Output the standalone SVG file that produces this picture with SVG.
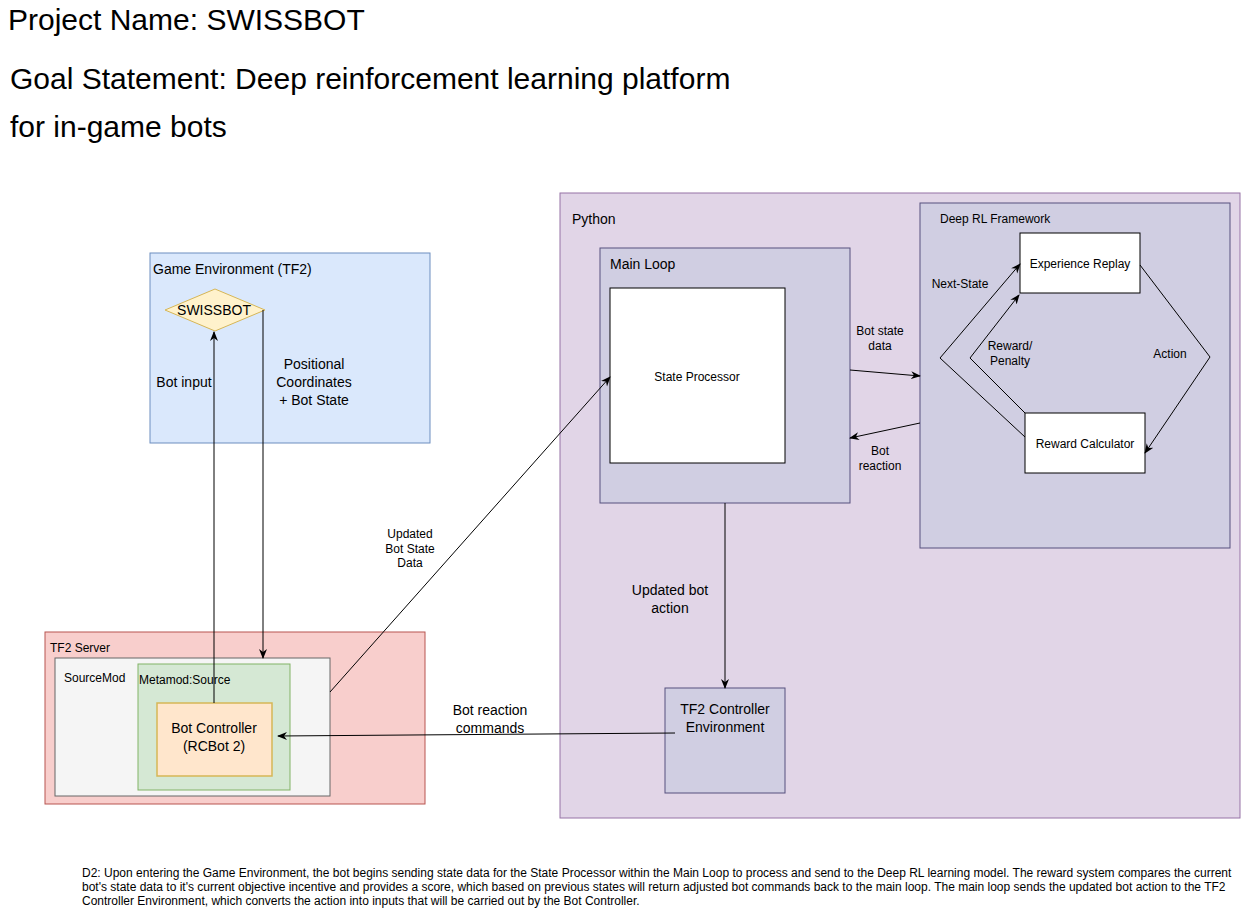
<svg xmlns="http://www.w3.org/2000/svg" width="1241" height="909" viewBox="0 0 1241 909">
<defs>
<marker id="arr" viewBox="0 0 10 10" refX="9" refY="5" markerWidth="10" markerHeight="10" markerUnits="userSpaceOnUse" orient="auto">
<path d="M0,1 L10,5 L0,9 L3,5 Z" fill="#000"/>
</marker>
</defs>
<style>
text{font-family:"Liberation Sans",Arial,sans-serif;fill:#000}
.t14{font-size:14px}
.t12{font-size:12px}
.c{text-anchor:middle}
.con{fill:none;stroke:#000;stroke-width:1}
.purple{fill:#d0cee2;stroke:#56517e}
.white{fill:#fff;stroke:#000}
</style>
<rect width="1241" height="909" fill="#fff"/>
<g id="title">
<text x="8" y="30" style="font-size:30px">Project Name: SWISSBOT</text>
<text x="10" y="89" style="font-size:30px">Goal Statement: Deep reinforcement learning platform</text>
<text x="10" y="137" style="font-size:30px">for in-game bots</text>
</g>
<g id="game-env">
<rect x="150" y="253" width="280" height="190" fill="#dae8fc" stroke="#6c8ebf"/>
<text x="153" y="274" class="t14">Game Environment (TF2)</text>
</g>
<g id="swissbot">
<polygon points="165,310 215,289 265,310 215,331" fill="#fff2cc" stroke="#d6b656"/>
<text x="214" y="315" class="t14 c">SWISSBOT</text>
</g>
<g id="tf2-server">
<rect x="45" y="632" width="380" height="172" fill="#f8cecc" stroke="#b85450"/>
<text x="50" y="652" class="t12">TF2 Server</text>
</g>
<g id="sourcemod">
<rect x="55" y="658" width="275" height="138" fill="#f5f5f5" stroke="#666"/>
<text x="64" y="682" class="t12">SourceMod</text>
</g>
<g id="metamod">
<rect x="138" y="664" width="152" height="126" fill="#d5e8d4" stroke="#82b366"/>
<text x="139" y="684" class="t12">Metamod:Source</text>
</g>
<g id="bot-controller">
<rect x="157" y="703" width="115" height="73" fill="#ffe6cc" stroke="#d6b656" stroke-width="1.5"/>
<text x="214" y="733" class="t14 c">Bot Controller</text>
<text x="214" y="751" class="t14 c">(RCBot 2)</text>
</g>
<g id="python">
<rect x="560" y="193" width="680" height="625" fill="#e1d5e7" stroke="#9673a6"/>
<text x="572" y="224" class="t14">Python</text>
</g>
<g id="main-loop">
<rect x="600" y="248" width="250" height="255" class="purple"/>
<text x="610" y="269" class="t14">Main Loop</text>
</g>
<g id="state-processor">
<rect x="610" y="288" width="175" height="175" class="white"/>
<text x="697" y="381" class="t12 c">State Processor</text>
</g>
<g id="deep-rl">
<rect x="920" y="203" width="310" height="345" class="purple"/>
<text x="940" y="223" class="t12">Deep RL Framework</text>
</g>
<g id="experience-replay">
<rect x="1020" y="233" width="120" height="60" class="white"/>
<text x="1080" y="268" class="t12 c">Experience Replay</text>
</g>
<g id="reward-calculator">
<rect x="1025" y="413" width="120" height="60" class="white"/>
<text x="1085" y="448" class="t12 c">Reward Calculator</text>
</g>
<g id="tf2-controller">
<rect x="665" y="688" width="120" height="105" class="purple"/>
<text x="725" y="714" class="t14 c">TF2 Controller</text>
<text x="725" y="732" class="t14 c">Environment</text>
</g>
<g id="connectors">
<line x1="214" y1="703" x2="214" y2="332" class="con" marker-end="url(#arr)"/>
<polyline points="263,310 263,658" class="con" marker-end="url(#arr)"/>
<line x1="330" y1="692" x2="610" y2="377" class="con" marker-end="url(#arr)"/>
<line x1="850" y1="370" x2="920" y2="376" class="con" marker-end="url(#arr)"/>
<line x1="920" y1="423" x2="850" y2="438" class="con" marker-end="url(#arr)"/>
<line x1="725" y1="503" x2="725" y2="688" class="con" marker-end="url(#arr)"/>
<line x1="675" y1="733" x2="278" y2="736" class="con" marker-end="url(#arr)"/>
<polyline points="1025,437 940,358 1020,264" class="con" marker-end="url(#arr)"/>
<polyline points="1025,413 970,358 1019,295" class="con" marker-end="url(#arr)"/>
<polyline points="1140,265 1210,357 1145,453" class="con" marker-end="url(#arr)"/>
</g>
<g id="labels">
<text x="184" y="387" class="t14 c">Bot input</text>
<text x="314" y="369" class="t14 c">Positional</text>
<text x="314" y="387" class="t14 c">Coordinates</text>
<text x="314" y="405" class="t14 c">+ Bot State</text>
<text x="410" y="538" class="t12 c">Updated</text>
<text x="410" y="553" class="t12 c">Bot State</text>
<text x="410" y="567" class="t12 c">Data</text>
<text x="880" y="335" class="t12 c">Bot state</text>
<text x="880" y="350" class="t12 c">data</text>
<text x="880" y="455" class="t12 c">Bot</text>
<text x="880" y="470" class="t12 c">reaction</text>
<text x="670" y="595" class="t14 c">Updated bot</text>
<text x="670" y="613" class="t14 c">action</text>
<text x="490" y="715" class="t14 c">Bot reaction</text>
<text x="490" y="733" class="t14 c">commands</text>
<text x="960" y="288" class="t12 c">Next-State</text>
<text x="1010" y="350" class="t12 c">Reward/</text>
<text x="1010" y="365" class="t12 c">Penalty</text>
<text x="1170" y="358" class="t12 c">Action</text>
</g>
<g id="description" style="font-size:12px">
<text x="82" y="877">D2: Upon entering the Game Environment, the bot begins sending state data for the State Processor within the Main Loop to process and send to the Deep RL learning model. The reward system compares the current</text>
<text x="82" y="891">bot's state data to it's current objective incentive and provides a score, which based on previous states will return adjusted bot commands back to the main loop. The main loop sends the updated bot action to the TF2</text>
<text x="82" y="905">Controller Environment, which converts the action into inputs that will be carried out by the Bot Controller.</text>
</g>
</svg>
